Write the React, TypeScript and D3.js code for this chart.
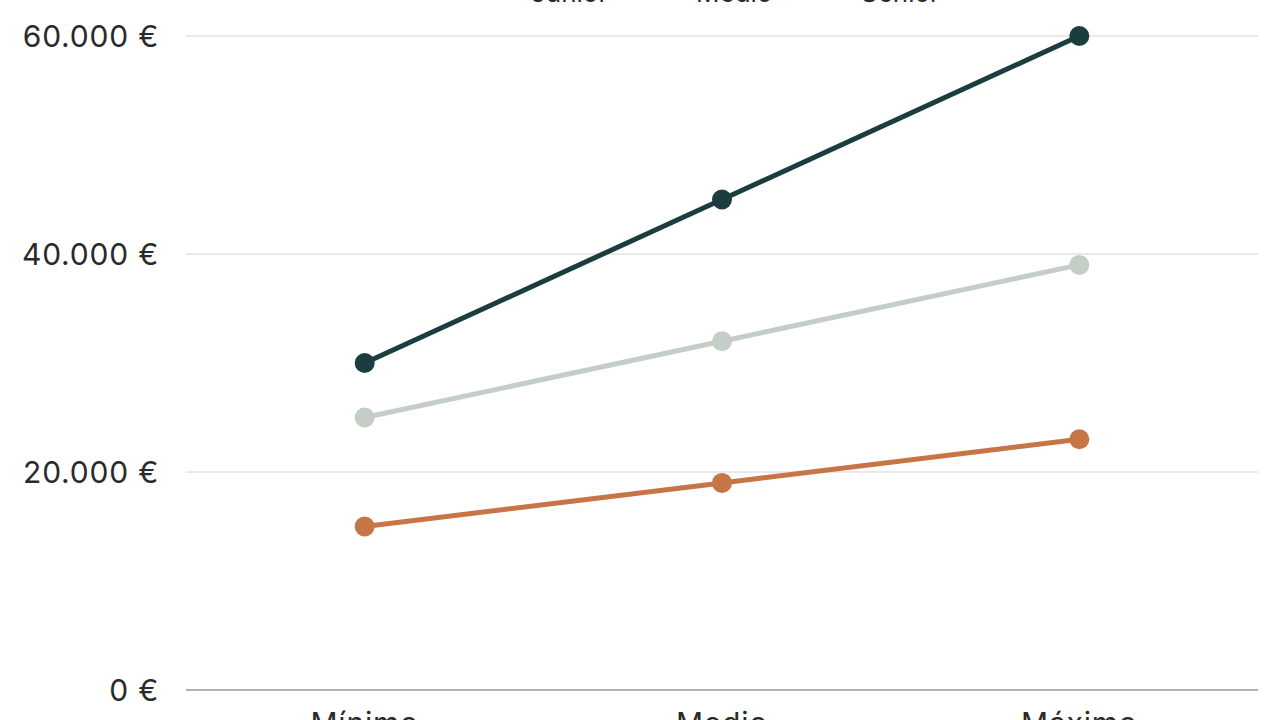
import React, { useEffect, useRef } from 'react';
import * as d3 from 'd3';

const categories = ['Mínimo', 'Medio', 'Máximo'];
const seriesNames = ['Junior', 'Medio', 'Senior'];
const juniorValues = [15000, 19000, 23000];
const medioValues = [25000, 32000, 39000];
const seniorValues = [30000, 45000, 60000];
const yTicks = [0, 20000, 40000, 60000];

const colors = ['#c77446', '#c5cec6', '#1b3d3d'];

const App: React.FC = () => {
  const svgRef = useRef<SVGSVGElement>(null);

  useEffect(() => {
    if (!svgRef.current) return;
    d3.select(svgRef.current).selectAll('*').remove();

    const width = 1280;
    const height = 720;
    const margin = { left: 186, right: 22, top: 36, bottom: 30 };

    const svg = d3.select(svgRef.current).attr('width', width).attr('height', height);

    const x = d3
      .scalePoint<string>()
      .domain(categories)
      .range([margin.left, width - margin.right])
      .padding(0.5);

    const y = d3
      .scaleLinear()
      .domain([0, 60000])
      .range([height - margin.bottom, margin.top]);

    const font = 'Inter, "Noto Sans", sans-serif';
    const fmt = (v: number) => d3.format(',')(v).replace(/,/g, '.') + ' €';

    // Grid lines
    svg
      .append('g')
      .selectAll('line')
      .data(yTicks)
      .enter()
      .append('line')
      .attr('x1', margin.left)
      .attr('x2', width - margin.right)
      .attr('y1', (d) => y(d))
      .attr('y2', (d) => y(d))
      .attr('stroke', (d) => (d === 0 ? '#999999' : '#d2d2d2'))
      .attr('stroke-width', (d) => (d === 0 ? 1.5 : 1));

    // Y labels
    svg
      .append('g')
      .selectAll('text')
      .data(yTicks)
      .enter()
      .append('text')
      .attr('x', 159)
      .attr('y', (d) => y(d))
      .attr('dy', '0.36em')
      .attr('text-anchor', 'end')
      .attr('font-family', font)
      .attr('font-size', 30)
      .attr('letter-spacing', 0.8)
      .attr('fill', '#2a2a2a')
      .text((d) => fmt(d));

    // X labels
    svg
      .append('g')
      .selectAll('text')
      .data(categories)
      .enter()
      .append('text')
      .attr('x', (d) => x(d) as number)
      .attr('y', 734)
      .attr('text-anchor', 'middle')
      .attr('font-family', font)
      .attr('font-size', 30)
      .attr('letter-spacing', 0.8)
      .attr('fill', '#2a2a2a')
      .text((d) => d);

    // Lines
    const seriesData = [juniorValues, medioValues, seniorValues];
    const line = d3
      .line<number>()
      .x((_, i) => x(categories[i]) as number)
      .y((d) => y(d));

    seriesData.forEach((vals, si) => {
      svg
        .append('path')
        .datum(vals)
        .attr('d', line)
        .attr('fill', 'none')
        .attr('stroke', colors[si])
        .attr('stroke-width', 5);

      svg
        .append('g')
        .selectAll('circle')
        .data(vals)
        .enter()
        .append('circle')
        .attr('cx', (_, i) => x(categories[i]) as number)
        .attr('cy', (d) => y(d))
        .attr('r', 10)
        .attr('fill', colors[si]);
    });

    // Legend (cut off at the top edge)
    const legendX = [503, 668, 833];
    const legend = svg.append('g');
    seriesNames.forEach((name, i) => {
      const g = legend.append('g').attr('transform', `translate(${legendX[i]}, -8)`);
      g.append('line')
        .attr('x1', 0)
        .attr('x2', 20)
        .attr('stroke', colors[i])
        .attr('stroke-width', 4);
      g.append('circle').attr('cx', 10).attr('r', 6).attr('fill', colors[i]);
      g.append('text')
        .attr('x', 28)
        .attr('y', 10)
        .attr('font-family', font)
        .attr('font-size', 26)
        .attr('fill', '#2a2a2a')
        .text(name);
    });
  }, []);

  return (
    <svg
      ref={svgRef}
      style={{ position: 'fixed', left: 0, top: 0, background: '#fff' }}
    ></svg>
  );
};

export default App;
